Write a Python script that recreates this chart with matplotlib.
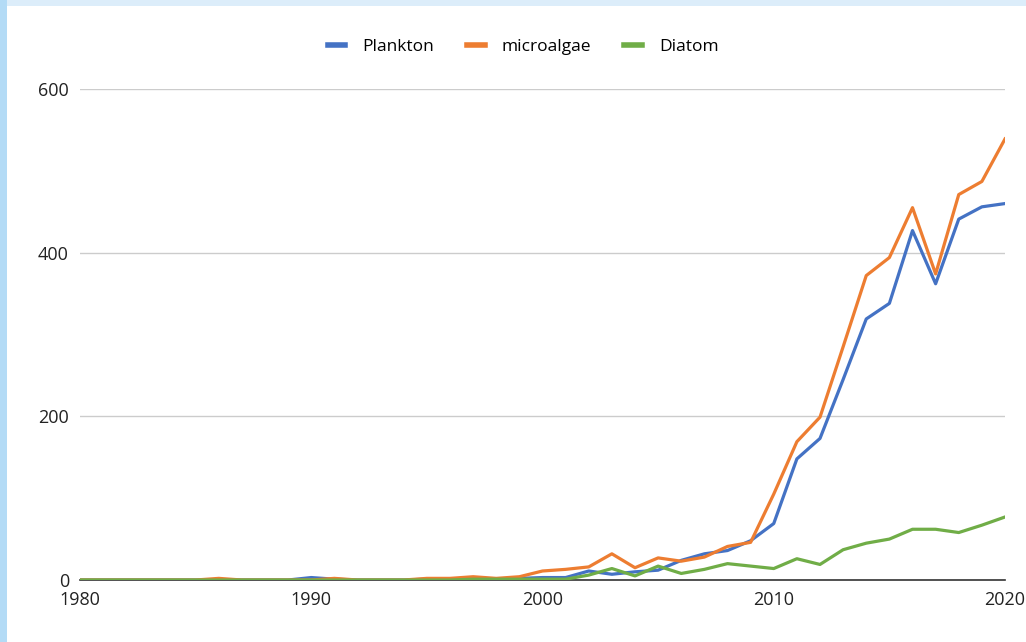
import numpy as np
import matplotlib.pyplot as plt
from matplotlib.patches import Rectangle

years = list(range(1980, 2021))

plankton = [0, 0, 0, 0, 0, 0, 0, 0, 0, 0,
            3, 1, 0, 0, 0, 1, 1, 2, 1, 2,
            3, 3, 11, 7, 10, 12, 24, 32, 36, 48,
            69, 148, 173, 245, 319, 338, 427, 362, 441, 456,
            460]
microalgae = [0, 0, 0, 0, 0, 0, 2, 0, 0, 0,
              0, 2, 0, 0, 0, 2, 2, 4, 2, 4,
              11, 13, 16, 32, 15, 27, 23, 28, 41, 46,
              105, 169, 199, 285, 372, 394, 455, 374, 471, 487,
              539]
diatom = [0, 0, 0, 0, 0, 0, 0, 0, 0, 0,
          0, 0, 0, 0, 0, 0, 0, 1, 1, 1,
          1, 1, 6, 14, 5, 17, 8, 13, 20, 17,
          14, 26, 19, 37, 45, 50, 62, 62, 58, 67,
          77]

series = [("Plankton", plankton, "#4472C4"),
          ("microalgae", microalgae, "#ED7D31"),
          ("Diatom", diatom, "#70AD47")]

plt.rcParams['font.family'] = ['Open Sans', 'DejaVu Sans']

fig = plt.figure(figsize=(10.26, 6.42), dpi=100)
fig.patch.set_facecolor("white")
# light blue frame on the left and top edges
fig.patches.append(Rectangle((0, 1 - 6 / 642), 1, 6 / 642, transform=fig.transFigure,
                             facecolor="#dcedfa", edgecolor="none", zorder=-5))
fig.patches.append(Rectangle((0, 0), 7 / 1026, 1, transform=fig.transFigure,
                             facecolor="#b3dbf6", edgecolor="none", zorder=-5))

ax = fig.add_axes([80 / 1026, 1 - 580 / 642, 925 / 1026, 491 / 642])
ax.set_facecolor("none")
ax.set_zorder(2)

for name, vals, color in series:
    ax.plot(years, vals, color=color, linewidth=2.3, label=name)

ax.set_xlim(1980, 2020)
ax.set_ylim(0, 600)
ax.set_xticks([1980, 1990, 2000, 2010, 2020])
ax.set_yticks([0, 200, 400, 600])
ax.grid(axis="y", color="#cccccc", linewidth=1)
ax.set_axisbelow(True)
for s in ["top", "right", "left"]:
    ax.spines[s].set_visible(False)
ax.spines["bottom"].set_color("#333333")
ax.spines["bottom"].set_linewidth(1.2)
ax.spines["bottom"].set_zorder(1)
ax.tick_params(axis="both", length=0, labelsize=13, colors="#222222")
ax.tick_params(axis="y", pad=8)
ax.tick_params(axis="x", pad=8)

fig.legend(loc="center", bbox_to_anchor=(0.51, 1 - 47 / 642), ncol=3, frameon=False,
           fontsize=12.5, handlelength=1.0, handletextpad=1.0, columnspacing=1.9)
for line in fig.legends[0].get_lines():
    line.set_linewidth(4)

fig.savefig("out.png", dpi=100, facecolor=fig.get_facecolor())
